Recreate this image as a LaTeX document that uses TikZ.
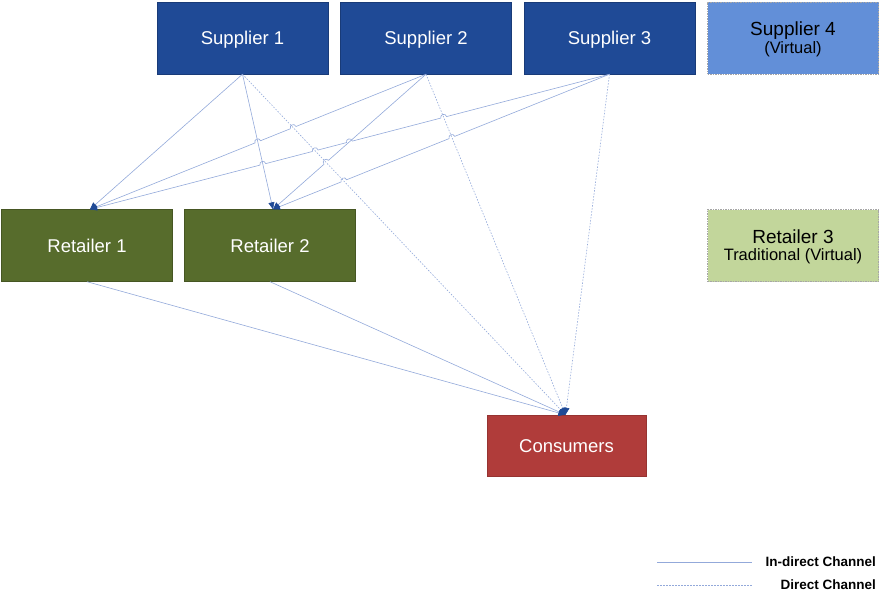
\documentclass[tikz,border=0pt]{standalone}
\usepackage{fontspec}
\setmainfont{Liberation Sans}
\usetikzlibrary{arrows.meta,calc}
\definecolor{supblue}{HTML}{1F4A96}
\definecolor{virtblue}{HTML}{628FD8}
\definecolor{retgreen}{HTML}{576C2C}
\definecolor{virtgreen}{HTML}{C2D69B}
\definecolor{consred}{HTML}{B03C3A}
\definecolor{linkc}{HTML}{93A9DA}
\definecolor{tipc}{HTML}{1F4A96}
\tikzset{
  box/.style={rectangle, minimum width=171pt, minimum height=72pt, inner sep=0pt, align=center},
  plainbox/.style={box, text height=13.2pt, text depth=0pt, font=\fontsize{18.5}{21}\selectfont},
  supbox/.style={plainbox, fill=supblue, draw=supblue!80!black, text=white},
  retbox/.style={plainbox, fill=retgreen, draw=retgreen!80!black, text=white},
  virtbox/.style={box, draw=gray!70, dashed, dash pattern=on 1.5pt off 1pt},
  vtitle/.style={anchor=base, inner sep=0pt, font=\fontsize{19}{21}\selectfont},
  vsub/.style={anchor=base, inner sep=0pt, font=\fontsize{16.5}{19}\selectfont},
  indirect/.style={draw=linkc, line width=0.6pt},
  direct/.style={draw=linkc, line width=0.6pt, dash pattern=on 1.5pt off 1.5pt},
  tip/.style={-{Triangle[length=7pt,width=6pt,color=tipc]}},
  hopc/.style={bend right=90, looseness=1.7},
  legendtext/.style={anchor=east, font=\bfseries\fontsize{13.5}{15}\selectfont, inner sep=0pt}
}
\begin{document}
\begin{tikzpicture}[x=1pt,y=-1pt]
\useasboundingbox (0,0) rectangle (882,598);
\node[supbox] (s1) at (242.5,38) {Supplier 1};
\node[supbox] (s2) at (426,38) {Supplier 2};
\node[supbox] (s3) at (609.5,38) {Supplier 3};
\node[virtbox, fill=virtblue] (s4) at (793,38) {};
\node[vtitle] (s4a) at (793,35) {Supplier 4};
\node[vsub] (s4b) at (793,53.5) {(Virtual)};
\node[retbox] (r1) at (87,245.5) {Retailer 1};
\node[retbox] (r2) at (270,245.5) {Retailer 2};
\node[virtbox, fill=virtgreen] (r3) at (793,245.5) {};
\node[vtitle] (r3a) at (793,243) {Retailer 3};
\node[vsub] (r3b) at (793,260.5) {Traditional (Virtual)};
\node[plainbox, fill=consred, draw=consred!85!black, text=white, minimum width=159pt, minimum height=61pt] (c) at (566.5,445.5) {Consumers};
\coordinate (r1n) at ([xshift=3pt]r1.north);
\coordinate (r2n) at ([xshift=3pt]r2.north);
\coordinate (cn) at ([xshift=-1pt]c.north);
% line-jump points
\foreach \n/\s/\e/\t in {
  a/s2.south/r1n/0.3952, b/s2.south/r1n/0.5007,
  c/s3.south/r1n/0.3192, d/s3.south/r1n/0.5007, e/s3.south/r1n/0.5665, f/s3.south/r1n/0.6673,
  g/s3.south/r2n/0.4682, h/s3.south/r2n/0.7895,
  i/s2.south/r2n/0.652}{
  \coordinate (P\n) at ($(\s)!\t!(\e)$);
  \coordinate (P\n1) at ($(P\n)!3pt!(\s)$);
  \coordinate (P\n2) at ($(P\n)!3pt!(\e)$);
}
% in-direct channels with jumps
\draw[indirect, tip] (s2.south) -- (Pa1) to[hopc] (Pa2) -- (Pb1) to[hopc] (Pb2) -- (r1n);
\draw[indirect, tip] (s3.south) -- (Pc1) to[hopc] (Pc2) -- (Pd1) to[hopc] (Pd2) -- (Pe1) to[hopc] (Pe2) -- (Pf1) to[hopc] (Pf2) -- (r1n);
\draw[indirect, tip] (s3.south) -- (Pg1) to[hopc] (Pg2) -- (Ph1) to[hopc] (Ph2) -- (r2n);
\draw[indirect, tip] (s2.south) -- (Pi1) to[hopc] (Pi2) -- (r2n);
% other channels
\draw[indirect, tip] (s1.south) -- (r1n);
\draw[indirect, tip] (s1.south) -- (r2n);
\foreach \s in {s1,s2,s3}{
  \draw[direct, tip] (\s.south) -- (cn);
}
\draw[indirect, tip] (r1.south) -- (cn);
\draw[indirect, tip] (r2.south) -- (cn);
% legend
\coordinate (l1a) at (657,562); \coordinate (l1b) at (752,562);
\coordinate (l2a) at (657,585); \coordinate (l2b) at (752,585);
\draw[indirect] (l1a) -- (l1b);
\draw[direct] (l2a) -- (l2b);
\node[legendtext] (t1) at (876,562) {In-direct Channel};
\node[legendtext] (t2) at (876,585) {Direct Channel};
\end{tikzpicture}
\end{document}
